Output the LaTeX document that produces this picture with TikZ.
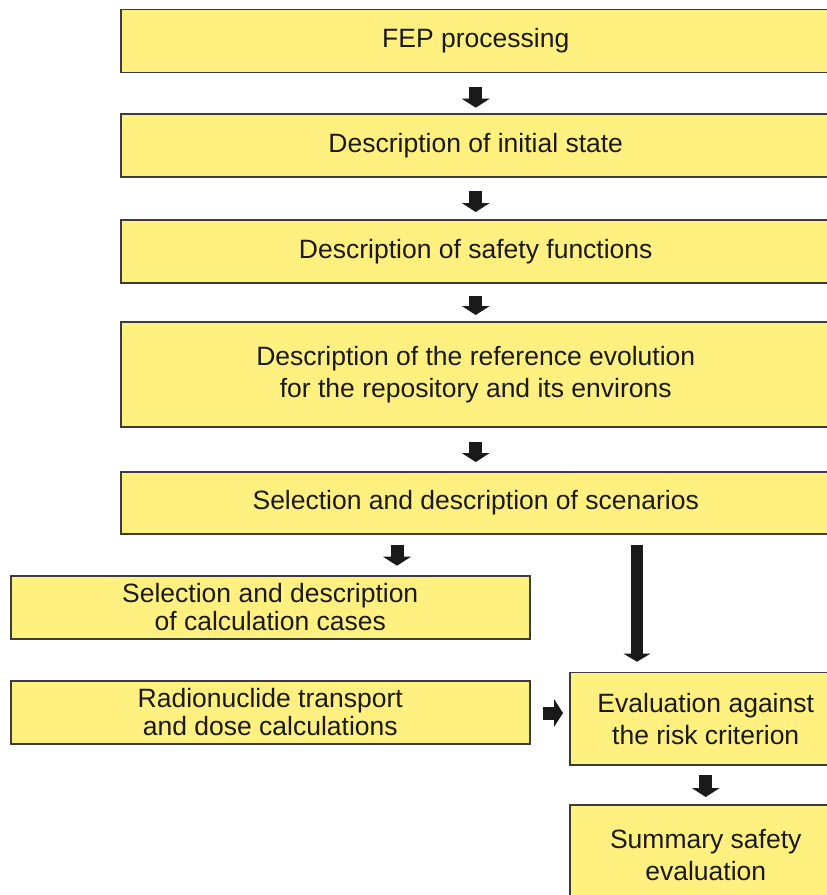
\documentclass[tikz,border=0pt]{standalone}
\usepackage{fontspec}
\setmainfont{Liberation Sans}
\usetikzlibrary{arrows.meta,positioning}
\definecolor{boxfill}{RGB}{255,240,128}
\definecolor{boxline}{RGB}{60,60,60}
\definecolor{arrowcol}{RGB}{26,26,26}
\definecolor{txtcol}{RGB}{26,26,26}
\begin{document}
\begin{tikzpicture}[x=1pt,y=-1pt,
  stepbox/.style={draw=boxline,fill=boxfill,line width=1.5pt,anchor=north west,
    inner sep=0pt,align=center,text=txtcol,
    font=\fontsize{26.5}{32}\selectfont},
  tightbox/.style={stepbox,font=\fontsize{26.5}{28}\selectfont},
  blk/.style={draw=arrowcol,line width=13pt,
    -{Triangle[width=28pt,length=9pt,line width=0pt]}},
  blkthin/.style={draw=arrowcol,line width=12pt,
    -{Triangle[width=27pt,length=8pt,line width=0pt]}}]
\useasboundingbox (0,0) rectangle (827,895);
\node[stepbox,minimum width=710pt,minimum height=63.2pt] (fep) at (120,8.5) {FEP processing};
\node[stepbox,minimum width=710pt,minimum height=63pt] (init) at (120,113) {Description of initial state};
\node[stepbox,minimum width=710pt,minimum height=63pt] (safe) at (120,219) {Description of safety functions};
\node[stepbox,minimum width=710pt,minimum height=105pt] (evol) at (120,321) {Description of the reference evolution\\for the repository and its environs};
\node[stepbox,minimum width=710pt,minimum height=62pt] (scen) at (120,471) {Selection and description of scenarios};
\node[tightbox,minimum width=519pt,minimum height=63pt] (calc) at (10,575) {Selection and description\\of calculation cases};
\node[tightbox,minimum width=519pt,minimum height=63pt] (radio) at (10,680) {Radionuclide transport\\and dose calculations};
\node[stepbox,minimum width=272pt,minimum height=92.6pt] (eval) at (569,671.7) {Evaluation against\\the risk criterion};
\node[stepbox,minimum width=272pt,minimum height=100pt] (summ) at (569,804.3) {Summary safety\\evaluation};
\coordinate (x5) at (397,0);
\coordinate (x6) at (637,0);
\draw[blk,shorten <=13.3pt,shorten >=5.3pt] (fep.south) -- (init.north);
\draw[blk,shorten <=13pt,shorten >=7pt] (init.south) -- (safe.north);
\draw[blk,shorten <=12pt,shorten >=6pt] (safe.south) -- (evol.north);
\draw[blk,shorten <=14pt,shorten >=9pt] (evol.south) -- (scen.north);
\draw[blk,shorten <=10.3pt,shorten >=9.3pt] (scen.south -| x5) -- (calc.north -| x5);
\draw[blkthin,shorten <=10pt,shorten >=10pt] (scen.south -| x6) -- (eval.north -| x6);
\draw[blk,shorten <=12pt,shorten >=6pt] (radio.east |- 0,713) -- (eval.west |- 0,713);
\draw[blk,shorten <=8.7pt,shorten >=7.3pt] (eval.south) -- (summ.north);
\end{tikzpicture}
\end{document}
